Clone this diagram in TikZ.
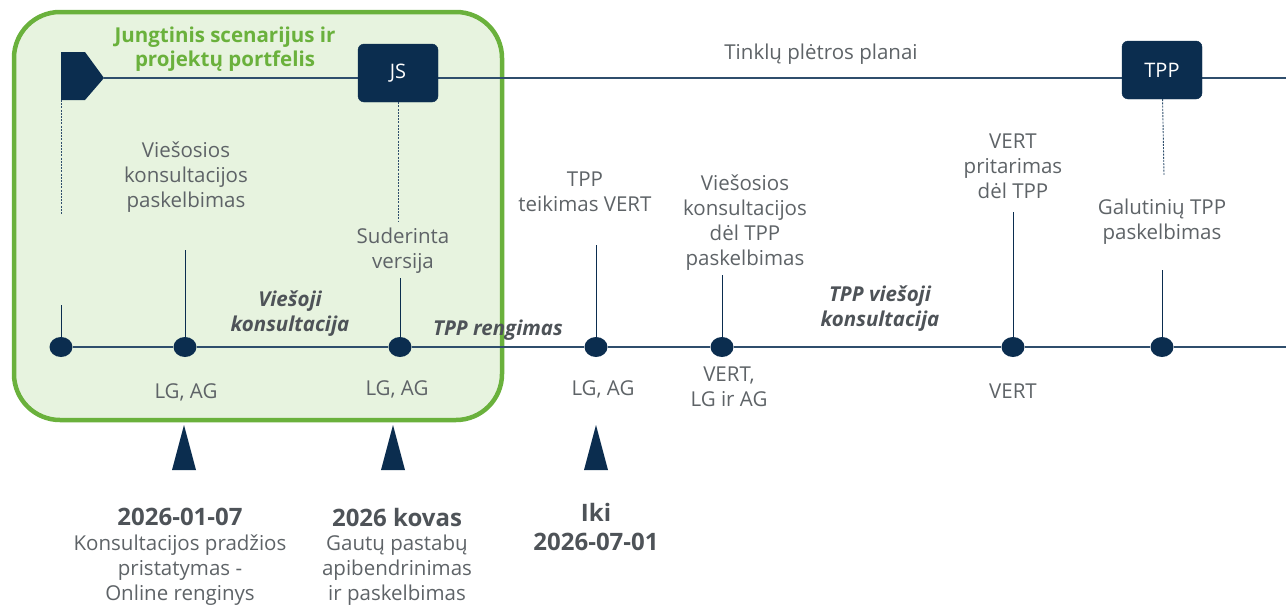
\documentclass[tikz,border=0pt]{standalone}
\usepackage{fontspec}
\setmainfont{Open Sans}
\usetikzlibrary{positioning,shapes.geometric}
\definecolor{navy}{HTML}{0B2D4F}
\definecolor{txtgrey}{HTML}{5E6367}
\definecolor{darkgrey}{HTML}{4E5358}
\definecolor{boxgreen}{HTML}{6AB13C}
\definecolor{boxfill}{HTML}{E7F3DF}
\definecolor{linecol}{HTML}{2F4E6C}

\begin{document}
\begin{tikzpicture}[x=1pt,y=-1pt,line join=bevel,
  lbl/.style={text=txtgrey,align=center,inner sep=0pt,font=\fontsize{20.5}{25}\selectfont},
  phase/.style={text=darkgrey,align=center,inner sep=0pt,font=\fontsize{20.5}{25}\selectfont\bfseries\itshape},
  datelbl/.style={text=darkgrey,align=center,inner sep=0pt,font=\fontsize{24}{29}\selectfont\bfseries},
  topbox/.style={draw=navy,fill=navy,rounded corners=6pt,minimum width=80pt,minimum height=58pt,text=white,font=\fontsize{20}{24}\selectfont},
  dot/.style={ellipse,fill=navy,minimum width=23pt,minimum height=20pt,inner sep=0pt},
  tline/.style={draw=linecol,line width=1.2pt},
  tick/.style={draw=navy,line width=1pt},
  dline/.style={draw=linecol,line width=0.9pt,dash pattern=on 2pt off 1.2pt},
]
\useasboundingbox (0,0) rectangle (1286,605);
%
% green area
\draw[boxgreen,fill=boxfill,line width=4.5pt,rounded corners=46pt] (14,12) rectangle (502,420);
\node[text=boxgreen,align=center,font=\fontsize{20.5}{24.5}\selectfont\bfseries] (title) at (225,49) {Jungtinis scenarijus ir\\projektų portfelis};
%
% top line
\coordinate (tip) at (104,78);
\coordinate (flagbot) at (61,100);
\coordinate (topend) at (1286,78);
\draw[tline] (tip) -- (topend);
\fill[navy] (61,52) -- (85,52) -- (tip) -- (85,100) -- (flagbot) -- cycle;
\node[topbox] (js) at (398,73) {JS};
\node[topbox] (tpp) at (1162,70) {TPP};
\node[lbl] (plans) at (821,54) {Tinklų plėtros planai};
%
% dashed links
\coordinate (d1) at (61,215);
\coordinate (d2) at (398,222);
\coordinate (d3) at (1164,175);
\draw[dline] (flagbot) -- (d1);
\draw[dline] (js) -- (d2);
\draw[dline] (tpp) -- (d3);
%
% timeline
\node[dot] (m1) at (61,347) {};
\node[dot] (m2) at (185,347) {};
\node[dot] (m3) at (400,347) {};
\node[dot] (m4) at (596,347) {};
\node[dot] (m5) at (722,347) {};
\node[dot] (m6) at (1013,347) {};
\node[dot] (m7) at (1162,347) {};
\coordinate (tlend) at (1286,347);
\draw[tline] (m1) -- (m2) -- (m3) -- (m4) -- (m5) -- (m6) -- (m7) -- (tlend);
%
% ticks
\coordinate (t1) at (61,305);
\coordinate (t2) at (185,250);
\coordinate (t3) at (400,278);
\coordinate (t4) at (596,245);
\coordinate (t5) at (722,275);
\coordinate (t6) at (1013,212);
\coordinate (t7) at (1162,270);
\foreach \i in {1,...,7} \draw[tick] (t\i) -- (m\i);
%
% labels above
\node[lbl] (a2) at (186,177) {Viešosios\\konsultacijos\\paskelbimas};
\node[lbl] (a3) at (403,251) {Suderinta\\versija};
\node[lbl] (a4) at (585,192) {TPP\\teikimas VERT};
\node[lbl] (a5) at (745,223) {Viešosios\\konsultacijos\\dėl TPP\\paskelbimas};
\node[lbl] (a6) at (1013,166) {VERT\\pritarimas\\dėl TPP};
\node[lbl] (a7) at (1162,222) {Galutinių TPP\\paskelbimas};
%
% phases
\node[phase] (p1) at (290,314) {Viešoji\\konsultacija};
\node[phase] (p2) at (498,330) {TPP rengimas};
\node[phase] (p3) at (880,309) {TPP viešoji\\konsultacija};
%
% labels below
\node[lbl] (b2) at (186,392) {LG, AG};
\node[lbl] (b3) at (397,389) {LG, AG};
\node[lbl] (b4) at (603,389) {LG, AG};
\node[lbl] (b5) at (729,387) {VERT,\\LG ir AG};
\node[lbl] (b6) at (1013,391) {VERT};
%
% markers
\foreach \x in {184,393,596}
  \fill[navy] (\x-12,470) -- (\x,425) -- (\x+12,470) -- cycle;
%
\node[datelbl] (e1) at (180,517) {2026-01-07};
\node[lbl] (f1) at (180,570) {Konsultacijos pradžios\\pristatymas -\\Online renginys};
\node[datelbl] (e2) at (397,517) {2026 kovas};
\node[lbl] (f2) at (397,570) {Gautų pastabų\\apibendrinimas\\ir paskelbimas};
\node[datelbl] (e3) at (596,527) {Iki\\2026-07-01};
%
\end{tikzpicture}
\end{document}
